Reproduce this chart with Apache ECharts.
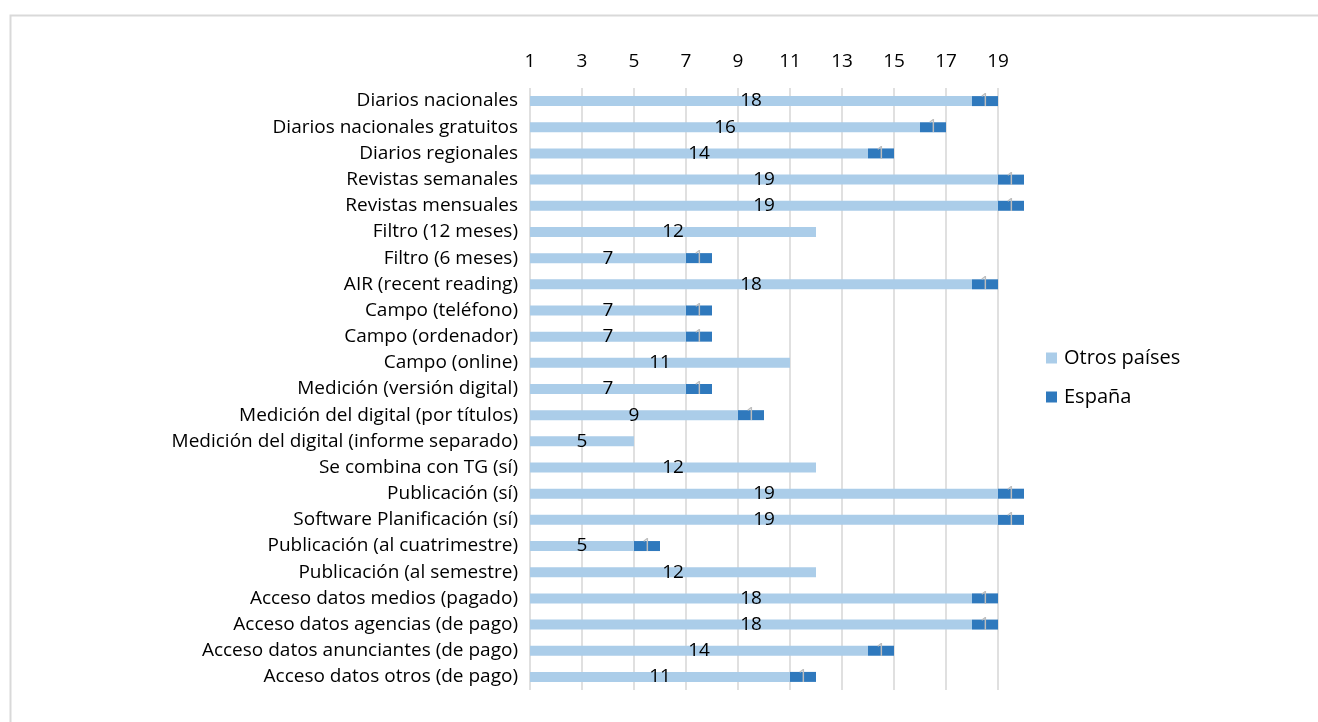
<!DOCTYPE html>
<html>
<head>
<meta charset="utf-8">
<script src="https://cdn.jsdelivr.net/npm/echarts@6/dist/echarts.min.js"></script>
<style>
  html, body { margin: 0; padding: 0; background: #fff; }
  #chart { width: 1318px; height: 722px; }
</style>
</head>
<body>
<div id="chart"></div>
<script>
// Categories, top to bottom
const categories = [
  'Diarios nacionales',
  'Diarios nacionales gratuitos',
  'Diarios regionales',
  'Revistas semanales',
  'Revistas mensuales',
  'Filtro (12 meses)',
  'Filtro (6 meses)',
  'AIR (recent reading)',
  'Campo (teléfono)',
  'Campo (ordenador)',
  'Campo (online)',
  'Medición (versión digital)',
  'Medición del digital (por títulos)',
  'Medición del digital (informe separado)',
  'Se combina con TG (sí)',
  'Publicación (sí)',
  'Software Planificación (sí)',
  'Publicación (al cuatrimestre)',
  'Publicación (al semestre)',
  'Acceso datos medios (pagado)',
  'Acceso datos agencias (de pago)',
  'Acceso datos anunciantes (de pago)',
  'Acceso datos otros (de pago)'
];

// Number of other countries per item
const otrosPaises = [18, 16, 14, 19, 19, 12, 7, 18, 7, 7, 11, 7, 9, 5, 12, 19, 19, 5, 12, 18, 18, 14, 11];

// Spain (null where it does not apply)
const espana = [1, 1, 1, 1, 1, null, 1, 1, 1, 1, null, 1, 1, null, null, 1, 1, 1, null, 1, 1, 1, 1];

const FONT = '"Open Sans", "Noto Sans", sans-serif';

const chart = echarts.init(document.getElementById('chart'));
chart.setOption({
  backgroundColor: '#ffffff',
  animation: false,
  textStyle: { fontFamily: FONT },
  graphic: [{
    type: 'rect',
    left: 8, top: 13,
    shape: { width: 1400, height: 800 },
    style: { fill: 'none', stroke: '#d9d9d9', lineWidth: 2 },
    silent: true
  }],
  legend: {
    orient: 'vertical',
    left: 1041,
    top: 341,
    itemWidth: 11,
    itemHeight: 11,
    itemGap: 15,
    icon: 'rect',
    textStyle: { fontFamily: FONT, fontSize: 20, color: '#000', lineHeight: 24, padding: [0, 0, 0, 2] },
    data: ['Otros países', 'España']
  },
  grid: { left: 530, right: 294, top: 88, bottom: 32, containLabel: false },
  xAxis: {
    type: 'value',
    position: 'top',
    min: 1,
    max: 20,
    interval: 2,
    axisLine: { show: false },
    axisTick: { show: false },
    axisLabel: { fontFamily: FONT, fontSize: 19, color: '#000', margin: 17, showMaxLabel: false },
    splitLine: { show: true, showMaxLine: false, lineStyle: { color: '#d6d6d6', width: 1.5 } }
  },
  yAxis: {
    type: 'category',
    inverse: true,
    data: categories,
    axisLine: { show: false },
    axisTick: { show: false },
    axisLabel: { fontFamily: FONT, fontSize: 19, color: '#000', margin: 12 }
  },
  series: [
    {
      name: 'Otros países',
      type: 'bar',
      stack: 'total',
      barWidth: 10,
      data: otrosPaises,
      itemStyle: { color: '#abcde9' },
      label: { show: true, position: 'inside', color: '#000', fontSize: 19, fontFamily: FONT }
    },
    {
      name: 'España',
      type: 'bar',
      stack: 'total',
      barWidth: 10,
      data: espana,
      itemStyle: { color: '#2f79bd' },
      label: { show: true, position: 'inside', color: '#bdbdbd', fontSize: 18, fontFamily: FONT }
    }
  ]
});
</script>
</body>
</html>
